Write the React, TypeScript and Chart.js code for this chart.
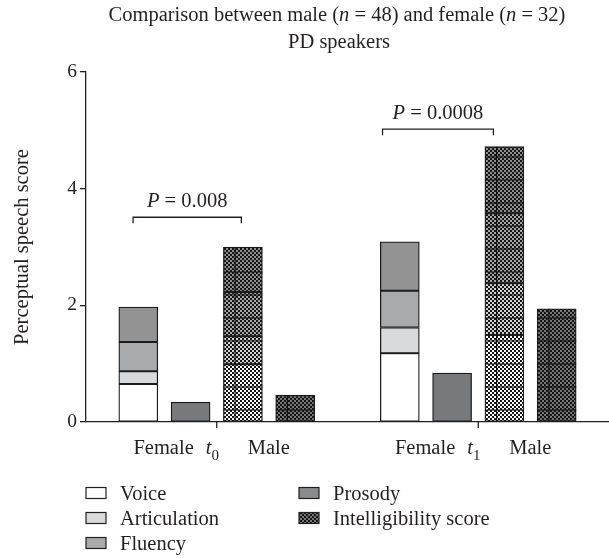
import React, { useEffect, useRef } from 'react';
import { Chart, registerables } from 'chart.js';
Chart.register(...registerables);

const FONT = '"Liberation Serif", "Times New Roman", serif';
const INK = '#231f20';
const FS = 20.5;

// slot layout: 11 slots, groups t0 (slots 1-4) and t1 (slots 6-9)
const slotLabels = ['', 'Female t0', 'Female t0 b', 'Male t0', 'Male t0 b', '', 'Female t1', 'Female t1 b', 'Male t1', 'Male t1 b', ''];
const timeLabels = ['0', '1'];
const timeTickSlots = [2.5, 7.5];

// values per time point [t0, t1]
const femaleVoice = [0.65, 1.18];
const femaleArticulation = [0.22, 0.44];
const femaleFluency = [0.5, 0.63];
const femaleProsody = [0.6, 0.84];
const femaleIntelligibility = [0.34, 0.84];
const maleVoice = [0.99, 1.49];
const maleArticulation = [0.48, 0.89];
const maleFluency = [0.76, 1.2];
const maleProsody = [0.77, 1.14];
const maleIntelligibility = [0.46, 1.94];

const pValues = ['0.008', '0.0008'];
const bracketFrom = [0.9, 5.67];
const bracketTo = [2.97, 7.79];
const bracketY = [3.51, 5.02];

const legendItems = ['Voice', 'Articulation', 'Fluency', 'Prosody', 'Intelligibility score'];

function place(vals: number[], slotOffset: number) {
  const arr: (number | null)[] = slotLabels.map(() => null);
  arr[1 + slotOffset] = vals[0];
  arr[6 + slotOffset] = vals[1];
  return arr;
}

function makeChecker(ctx: CanvasRenderingContext2D, light: string, dark = '#151515', cell = 2) {
  const c = document.createElement('canvas');
  c.width = c.height = cell * 2;
  const g = c.getContext('2d')!;
  g.fillStyle = light;
  g.fillRect(0, 0, cell * 2, cell * 2);
  g.fillStyle = dark;
  g.fillRect(0, 0, cell, cell);
  g.fillRect(cell, cell, cell, cell);
  return ctx.createPattern(c, 'repeat')!;
}

type Part = { t: string; it?: boolean; sub?: boolean };
function drawRich(ctx: CanvasRenderingContext2D, parts: Part[], x: number, y: number, size: number, align: 'left' | 'center' | 'right') {
  const fontFor = (p: Part) => `${p.it ? 'italic ' : ''}${p.sub ? Math.round(size * 0.72) : size}px ${FONT}`;
  let total = 0;
  parts.forEach((p) => {
    ctx.font = fontFor(p);
    total += ctx.measureText(p.t).width;
  });
  let cx = align === 'left' ? x : align === 'center' ? x - total / 2 : x - total;
  ctx.textAlign = 'left';
  ctx.textBaseline = 'alphabetic';
  parts.forEach((p) => {
    ctx.font = fontFor(p);
    ctx.fillText(p.t, cx, p.sub ? y + size * 0.28 : y);
    cx += ctx.measureText(p.t).width;
  });
}

export default function App() {
  const ref = useRef<HTMLCanvasElement>(null);
  useEffect(() => {
    document.body.style.margin = '0';
    const canvas = ref.current!;
    const ctx = canvas.getContext('2d')!;
    const pMaleVoice = makeChecker(ctx, '#ffffff');
    const pMaleArt = makeChecker(ctx, '#d2d2d2');
    const pMaleFlu = makeChecker(ctx, '#a6a6a6');
    const pMalePro = makeChecker(ctx, '#8e8e8e');
    const pMaleInt = makeChecker(ctx, '#767676');

    const legendFills: (string | CanvasPattern)[] = ['#ffffff', '#d9dadb', '#a9aaac', '#8a8b8c', pMaleInt];

    const base = { borderColor: '#1c1c1c', borderWidth: 1.3, borderSkipped: false as const, barThickness: 39 };
    const checkerSets = [5, 6, 7, 8, 9];

    const annot = {
      id: 'annot',
      afterDatasetsDraw(chart: any) {
        const { ctx: c, scales } = chart;
        const zero = scales.y.getPixelForValue(0);
        c.save();
        c.strokeStyle = '#111';
        c.lineWidth = 1.1;
        checkerSets.forEach((di) => {
          const meta = chart.getDatasetMeta(di);
          meta.data.forEach((el: any, i: number) => {
            const v = chart.data.datasets[di].data[i];
            if (v == null) return;
            const { x, y, base: b, width } = el.getProps(['x', 'y', 'base', 'width'], true);
            const left = x - width / 2;
            c.beginPath();
            c.moveTo(left + width * 0.3, y);
            c.lineTo(left + width * 0.3, b);
            for (let yy = zero - 12; yy > y + 2; yy -= 23) {
              if (yy < b - 1) {
                c.moveTo(left, yy);
                c.lineTo(left + width, yy);
              }
            }
            c.stroke();
          });
        });
        c.restore();
      },
      afterDraw(chart: any) {
        const { ctx: c, scales } = chart;
        const { x, y } = scales;
        c.save();
        c.fillStyle = INK;
        c.strokeStyle = INK;
        c.lineWidth = 1.3;
        // title
        drawRich(c, [
          { t: 'Comparison between male (' }, { t: 'n', it: true }, { t: ' = 48) and female (' }, { t: 'n', it: true }, { t: ' = 32)' },
        ], 337, 21, FS, 'center');
        drawRich(c, [{ t: 'PD speakers' }], 339, 48, FS, 'center');
        // time ticks & labels
        timeTickSlots.forEach((s, i) => {
          const px = x.getPixelForValue(s);
          c.beginPath();
          c.moveTo(px, y.bottom);
          c.lineTo(px, y.bottom + 6);
          c.stroke();
          drawRich(c, [{ t: 'Female' }], px - 23, 454, FS, 'right');
          drawRich(c, [{ t: 't', it: true }, { t: timeLabels[i], sub: true }], px - 11, 454, FS, 'left');
          drawRich(c, [{ t: 'Male' }], px + 31, 454, FS, 'left');
        });
        // brackets
        pValues.forEach((p, i) => {
          const x0 = x.getPixelForValue(bracketFrom[i]);
          const x1 = x.getPixelForValue(bracketTo[i]);
          const by = y.getPixelForValue(bracketY[i]);
          c.beginPath();
          c.moveTo(x0, by + 6);
          c.lineTo(x0, by);
          c.lineTo(x1, by);
          c.lineTo(x1, by + 6);
          c.stroke();
          drawRich(c, [{ t: 'P', it: true }, { t: ' = ' + p }], (x0 + x1) / 2, by - 10, FS, 'center');
        });
        // legend
        legendItems.forEach((name, i) => {
          const col = i < 3 ? 0 : 1;
          const row = i < 3 ? i : i - 3;
          const sx = col === 0 ? 86 : 299;
          const cy = 493 + row * 25;
          c.fillStyle = legendFills[i] as any;
          c.fillRect(sx, cy - 5.5, 20, 11);
          c.lineWidth = 1.2;
          c.strokeRect(sx, cy - 5.5, 20, 11);
          c.fillStyle = INK;
          drawRich(c, [{ t: name }], sx + 34, cy + 6.5, FS, 'left');
        });
        c.restore();
      },
    };

    const chart = new Chart(canvas, {
      type: 'bar',
      data: {
        labels: slotLabels,
        datasets: [
          { label: 'Voice', data: place(femaleVoice, 0), backgroundColor: '#ffffff', ...base },
          { label: 'Articulation', data: place(femaleArticulation, 0), backgroundColor: '#d9dadb', ...base },
          { label: 'Fluency', data: place(femaleFluency, 0), backgroundColor: '#a9aaac', ...base },
          { label: 'Prosody', data: place(femaleProsody, 0), backgroundColor: '#939393', ...base },
          { label: 'Female intelligibility', data: place(femaleIntelligibility, 1), backgroundColor: '#78797b', ...base },
          { label: 'Male voice', data: place(maleVoice, 2), backgroundColor: pMaleVoice as any, ...base },
          { label: 'Male articulation', data: place(maleArticulation, 2), backgroundColor: pMaleArt as any, ...base },
          { label: 'Male fluency', data: place(maleFluency, 2), backgroundColor: pMaleFlu as any, ...base },
          { label: 'Male prosody', data: place(maleProsody, 2), backgroundColor: pMalePro as any, ...base },
          { label: 'Male intelligibility', data: place(maleIntelligibility, 3), backgroundColor: pMaleInt as any, ...base },
        ],
      },
      options: {
        animation: false,
        responsive: false,
        maintainAspectRatio: false,
        layout: { padding: { left: 0, right: 0, top: 72, bottom: 136 } },
        plugins: { legend: { display: false }, tooltip: { enabled: false }, title: { display: false } },
        scales: {
          x: {
            stacked: true,
            offset: false,
            grid: { display: false },
            ticks: { display: false },
            border: { display: true, color: INK, width: 1.3 },
            afterFit: (s: any) => { s.height = 0; },
          },
          y: {
            stacked: true,
            min: 0,
            max: 6,
            ticks: { stepSize: 2, color: INK, font: { family: FONT, size: 19.5 }, padding: 3 },
            grid: { display: true, drawOnChartArea: false, drawTicks: true, tickLength: 6, color: INK, lineWidth: 1.3 },
            border: { display: true, color: INK, width: 1.3 },
            title: { display: true, text: 'Perceptual speech score', color: INK, font: { family: FONT, size: FS }, padding: { top: 10, bottom: 0 } },
            afterFit: (s: any) => { s.width = 86; },
          },
        },
      },
      plugins: [annot],
    });
    return () => chart.destroy();
  }, []);
  return <canvas ref={ref} width={609} height={558} style={{ display: 'block' }} />;
}
